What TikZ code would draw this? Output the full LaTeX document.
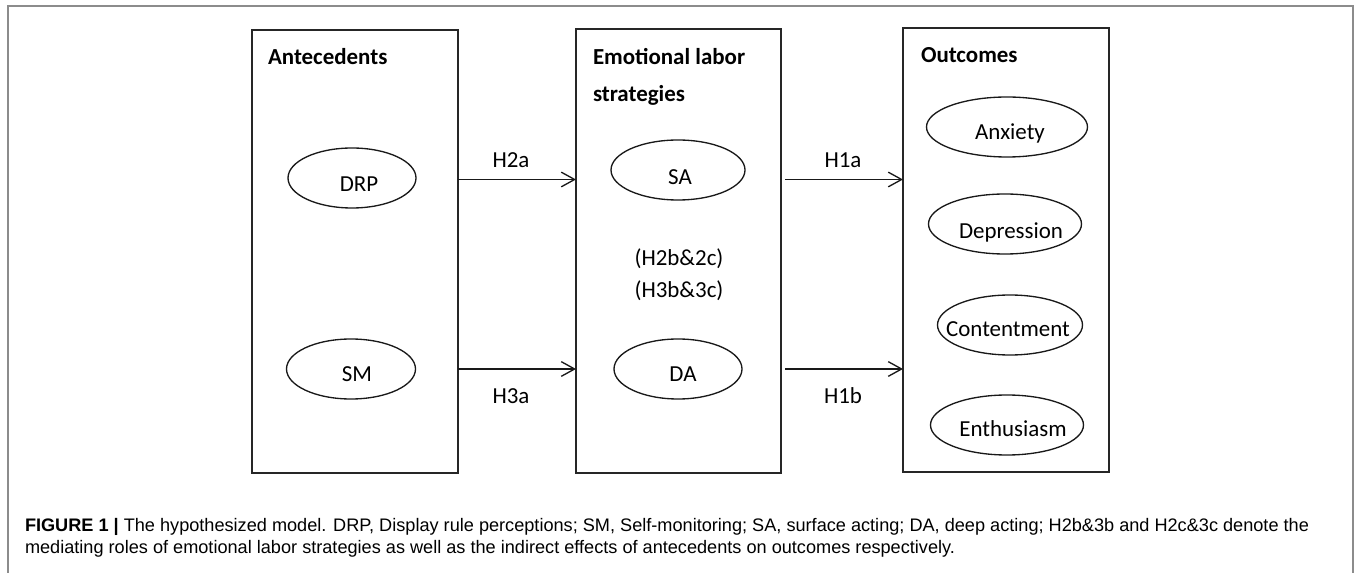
\documentclass[tikz,border=0pt]{standalone}
\usepackage{fontspec}
\setmainfont{Carlito}
\newfontfamily\capfont{Liberation Sans}
\usetikzlibrary{arrows.meta,calc,shapes.geometric}
\newsavebox\capA
\newsavebox\capB
\newdimen\capw
\begin{document}
\sbox\capA{\capfont\fontsize{13.6}{16}\selectfont\textbf{FIGURE 1 |} The hypothesized model. DRP, Display rule perceptions; SM, Self-monitoring; SA, surface acting; DA, deep acting; H2b\&3b and H2c\&3c denote the}%
\sbox\capB{\capfont\fontsize{13.6}{16}\selectfont mediating roles of emotional labor strategies as well as the indirect effects of antecedents on outcomes respectively.}%
\capw=\wd\capA
\pgfmathsetmacro\capsc{963/\capw}%
\begin{tikzpicture}[x=0.75pt,y=-0.75pt,
  every node/.style={inner sep=0pt,outer sep=0pt,font=\fontsize{17.2}{20}\selectfont},
  panel/.style={draw=black!85,line width=1.5pt,minimum width=#1},
  oval/.style={draw=black!90,ellipse,line width=1pt,minimum height=45pt,minimum width=#1},
  ttl/.style={anchor=base west,font=\fontsize{17.2}{20}\selectfont\bfseries},
  txt/.style={anchor=base},
  arr/.style={line width=1pt,black!90,-{Straight Barb[length=10pt,width=11pt,line width=1pt]}},
  frame/.style={draw=black!45,line width=1.2pt}]
\useasboundingbox (0,0) rectangle (1357,573);
% outer frame
\coordinate (fbl) at (8,573);
\coordinate (ftl) at (8,6);
\coordinate (ftr) at (1353,6);
\coordinate (fbr) at (1353,573);
\draw[frame] (fbl) -- (ftl) -- (ftr) -- (fbr);
% panels
\node[panel=154.5pt,minimum height=332.25pt] (ant) at (355,251.5) {};
\node[panel=153.75pt,minimum height=333pt] (mid) at (678.5,251) {};
\node[panel=154.5pt,minimum height=333pt] (out) at (1006,250) {};
% titles
\node[ttl] (tant) at (268,65) {Antecedents};
\node[ttl] (tmid1) at (593,65) {Emotional labor};
\node[ttl] (tmid2) at (593,101.5) {strategies};
\node[ttl] (tout) at (921,63) {Outcomes};
% ellipses
\node[oval=96pt] (drp) at (352,178) {};
\node[oval=100.5pt] (sa) at (678,170) {};
\node[oval=96.75pt] (sm) at (351,369) {};
\node[oval=96pt] (da) at (678,369) {};
\node[oval=120.75pt] (anx) at (1007,127) {};
\node[oval=114.75pt] (dep) at (1005,224) {};
\node[oval=108.75pt] (con) at (1010,325) {};
\node[oval=114.75pt] (ent) at (1007,425) {};
% ellipse texts
\node[txt] (tdrp) at (359,192) {DRP};
\node[txt] (tsa) at (680,185) {SA};
\node[txt] (tsm) at (357,382) {SM};
\node[txt] (tda) at (683,382) {DA};
\node[txt] (tanx) at (1010,140) {Anxiety};
\node[txt] (tdep) at (1011,239) {Depression};
\node[txt] (tcon) at (1008,337) {Contentment};
\node[txt] (tent) at (1013,437) {Enthusiasm};
% middle texts
\node[txt] (m1) at (679,266) {(H2b\&2c)};
\node[txt] (m2) at (679,298) {(H3b\&3c)};
% arrows
\coordinate (r1) at (0,179.5);
\coordinate (r2) at (0,369);
\draw[arr] (ant.east |- r1) -- (mid.west |- r1);
\draw[arr] (ant.east |- r2) -- (mid.west |- r2);
\draw[arr] ($(mid.east |- r1)+(4,0)$) -- (out.west |- r1);
\draw[arr] ($(mid.east |- r2)+(4,0)$) -- (out.west |- r2);
% arrow labels
\node[txt] (h2a) at (511,168) {H2a};
\node[txt] (h3a) at (511,404) {H3a};
\node[txt] (h1a) at (843,168) {H1a};
\node[txt] (h1b) at (843,404) {H1b};
% caption
\node[anchor=base west] (cap1) at (25,532) {\scalebox{\capsc}[1]{\usebox\capA}};
\node[anchor=base west] (cap2) at (25,553) {\scalebox{\capsc}[1]{\usebox\capB}};
\end{tikzpicture}
\end{document}
